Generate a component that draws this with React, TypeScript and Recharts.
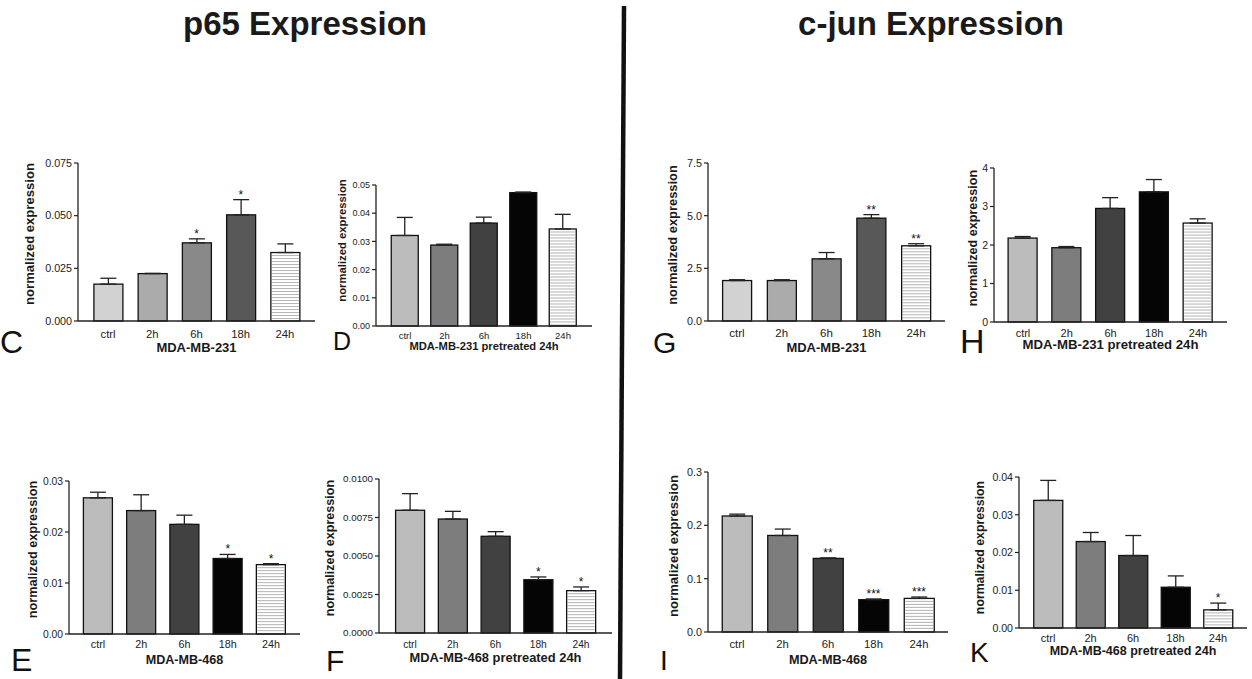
import React from 'react'
import { BarChart, Bar, XAxis, YAxis, ErrorBar, ReferenceDot, Cell } from 'recharts'

const timepoints = ['ctrl', '2h', '6h', '18h', '24h']

// p65 - MDA-MB-231
const p65Mb231Mean = [0.0175, 0.0225, 0.0371, 0.0504, 0.0325]
const p65Mb231Sem = [0.0028, 0.0001, 0.0019, 0.0072, 0.0041]
const p65Mb231Sig = ['', '', '*', '*', '']
const p65Mb231Ticks = [0, 0.025, 0.05, 0.075]

// p65 - MDA-MB-231 pretreated 24h
const p65Mb231PreMean = [0.0321, 0.0287, 0.0365, 0.0473, 0.0344]
const p65Mb231PreSem = [0.0064, 0.0003, 0.0021, 0.0002, 0.0052]
const p65Mb231PreSig = ['', '', '', '', '']
const p65Mb231PreTicks = [0, 0.01, 0.02, 0.03, 0.04, 0.05]

// p65 - MDA-MB-468
const p65Mb468Mean = [0.0267, 0.0242, 0.0215, 0.0148, 0.0136]
const p65Mb468Sem = [0.0011, 0.0031, 0.0018, 0.0008, 0.0002]
const p65Mb468Sig = ['', '', '', '*', '*']
const p65Mb468Ticks = [0, 0.01, 0.02, 0.03]

// p65 - MDA-MB-468 pretreated 24h
const p65Mb468PreMean = [0.00797, 0.0074, 0.00628, 0.00346, 0.00275]
const p65Mb468PreSem = [0.00108, 0.0005, 0.0003, 0.00018, 0.00024]
const p65Mb468PreSig = ['', '', '', '*', '*']
const p65Mb468PreTicks = [0, 0.0025, 0.005, 0.0075, 0.01]

// c-jun - MDA-MB-231
const cjunMb231Mean = [1.92, 1.92, 2.95, 4.88, 3.57]
const cjunMb231Sem = [0.04, 0.04, 0.3, 0.17, 0.1]
const cjunMb231Sig = ['', '', '', '**', '**']
const cjunMb231Ticks = [0, 2.5, 5, 7.5]

// c-jun - MDA-MB-231 pretreated 24h
const cjunMb231PreMean = [2.18, 1.93, 2.95, 3.38, 2.57]
const cjunMb231PreSem = [0.04, 0.03, 0.28, 0.32, 0.11]
const cjunMb231PreSig = ['', '', '', '', '']
const cjunMb231PreTicks = [0, 1, 2, 3, 4]

// c-jun - MDA-MB-468
const cjunMb468Mean = [0.2175, 0.181, 0.138, 0.0606, 0.063]
const cjunMb468Sem = [0.0035, 0.012, 0.001, 0.0014, 0.0026]
const cjunMb468Sig = ['', '', '**', '***', '***']
const cjunMb468Ticks = [0, 0.1, 0.2, 0.3]

// c-jun - MDA-MB-468 pretreated 24h
const cjunMb468PreMean = [0.0338, 0.0229, 0.0192, 0.0108, 0.0048]
const cjunMb468PreSem = [0.0053, 0.0024, 0.0053, 0.003, 0.0018]
const cjunMb468PreSig = ['', '', '', '', '*']
const cjunMb468PreTicks = [0, 0.01, 0.02, 0.03, 0.04]

const lightPalette = ['#d2d2d2', '#ababab', '#898989', '#585858', 'hatch']
const darkPalette = ['#bcbcbc', '#7d7d7d', '#414141', '#050505', 'hatch']

const AXIS = '#222'
const FONT = '"Liberation Sans", Arial, Helvetica, sans-serif'

function BarShape(props: any) {
  const { x, y, width, height, fill } = props
  if (!height || height <= 0) return null
  if (fill === 'hatch') {
    const lines = []
    for (let yy = y + 3; yy < y + height - 1; yy += 3) {
      lines.push(<line key={yy} x1={x + 1} x2={x + width - 1} y1={yy} y2={yy} stroke="#a0a0a0" strokeWidth={0.8} />)
    }
    return (
      <g>
        <rect x={x} y={y} width={width} height={height} fill="#fff" />
        {lines}
        <rect x={x} y={y} width={width} height={height} fill="none" stroke="#111" strokeWidth={1.3} />
      </g>
    )
  }
  return <rect x={x} y={y} width={width} height={height} fill={fill} stroke="#111" strokeWidth={1.3} />
}

type PanelProps = {
  mean: number[]
  sem: number[]
  sig: string[]
  ticks: number[]
  digits: number
  palette: string[]
  title: string
  x0: number
  x1: number
  yTop: number
  yBot: number
  pad: number
  bar: number
  yTickFs: number
  xTickFs: number
  tickGap: number
  labelFs: number
  labelDist: number
  labelDy: number
  titleFs: number
  titleY: number
}

function Panel(p: PanelProps) {
  const AW = 60
  const MT = 12
  const MR = 5
  const XH = 48
  const left = p.x0 - AW
  const top = p.yTop - MT
  const width = p.x1 - p.x0 + AW + MR
  const height = p.yBot - p.yTop + MT + XH
  const data = timepoints.map((t, i) => ({ t, mean: p.mean[i], err: [0, p.sem[i]] }))
  const lx = p.x0 - p.labelDist - left
  const ly = (p.yTop + p.yBot) / 2 + p.labelDy - top

  return (
    <div style={{ position: 'absolute', left, top }}>
      <BarChart width={width} height={height} data={data} margin={{ top: MT, right: MR, left: 0, bottom: 0 }}>
        <XAxis
          dataKey="t"
          height={XH}
          interval={0}
          padding={{ left: p.pad, right: p.pad }}
          tickLine={false}
          tickSize={0}
          tickMargin={p.tickGap}
          axisLine={{ stroke: AXIS, strokeWidth: 1.3 }}
          tick={{ fontSize: p.xTickFs, fill: '#222' }}
          label={() => (
            <text
              x={(p.x0 + p.x1) / 2 - left}
              y={p.titleY - top + 0.36 * p.titleFs}
              textAnchor="middle"
              fontSize={p.titleFs}
              fontWeight="bold"
              fill="#1a1a1a"
            >
              {p.title}
            </text>
          )}
        />
        <YAxis
          width={AW}
          domain={[0, p.ticks[p.ticks.length - 1]]}
          ticks={p.ticks}
          interval={0}
          tickFormatter={(v: number) => v.toFixed(p.digits)}
          tickSize={4}
          tickMargin={2}
          axisLine={{ stroke: AXIS, strokeWidth: 1.3 }}
          tickLine={{ stroke: AXIS, strokeWidth: 1.2 }}
          tick={{ fontSize: p.yTickFs, fill: '#222' }}
          label={() => (
            <text
              x={lx}
              y={ly}
              transform={`rotate(-90 ${lx} ${ly})`}
              textAnchor="middle"
              dominantBaseline="central"
              fontSize={p.labelFs}
              fontWeight="bold"
              fill="#1a1a1a"
            >
              normalized expression
            </text>
          )}
        />
        <Bar dataKey="mean" barSize={p.bar} isAnimationActive={false} shape={BarShape}>
          {data.map((d, i) => (
            <Cell key={d.t} fill={p.palette[i]} />
          ))}
          <ErrorBar dataKey="err" width={8} stroke={AXIS} strokeWidth={1.3} isAnimationActive={false} />
        </Bar>
        {p.sig.map((s, i) =>
          s ? (
            <ReferenceDot
              key={timepoints[i]}
              x={timepoints[i]}
              y={p.mean[i] + p.sem[i]}
              r={0}
              fill="none"
              stroke="none"
              label={{ value: s, position: 'top', offset: 1, fontSize: 12, fill: '#111' }}
            />
          ) : null
        )}
      </BarChart>
    </div>
  )
}

export default function App() {
  return (
    <div
      style={{
        position: 'absolute',
        left: 0,
        top: 0,
        width: 1252,
        height: 679,
        background: '#fff',
        overflow: 'hidden',
        fontFamily: FONT,
      }}
    >
      <svg width={1252} height={679} style={{ position: 'absolute', left: 0, top: 0 }} fontFamily={FONT}>
        <text x={305} y={35} textAnchor="middle" fontSize={33} fontWeight="bold" fill="#1a1a1a">
          p65 Expression
        </text>
        <text x={931} y={35} textAnchor="middle" fontSize={33} fontWeight="bold" fill="#1a1a1a">
          c-jun Expression
        </text>
        <line x1={624} y1={6} x2={620} y2={679} stroke="#111" strokeWidth={4.5} />
        <text x={0} y={353} fontSize={32} fill="#111">C</text>
        <text x={333} y={350} fontSize={25} fill="#111">D</text>
        <text x={653} y={353} fontSize={30} fill="#111">G</text>
        <text x={960} y={353} fontSize={34} fill="#111">H</text>
        <text x={11} y={671} fontSize={32} fill="#111">E</text>
        <text x={326} y={671} fontSize={30} fill="#111">F</text>
        <text x={660} y={670} fontSize={28} fill="#111">I</text>
        <text x={970} y={662} fontSize={28} fill="#111">K</text>
      </svg>

      <Panel mean={p65Mb231Mean} sem={p65Mb231Sem} sig={p65Mb231Sig} ticks={p65Mb231Ticks} digits={3}
        palette={lightPalette} title="MDA-MB-231"
        x0={78} x1={315} yTop={163} yBot={321} pad={7.9} bar={29}
        yTickFs={10.7} xTickFs={11.3} tickGap={8.5} labelFs={13.1} labelDist={49} labelDy={-8}
        titleFs={13} titleY={347} />
      <Panel mean={p65Mb231PreMean} sem={p65Mb231PreSem} sig={p65Mb231PreSig} ticks={p65Mb231PreTicks} digits={2}
        palette={darkPalette} title="MDA-MB-231 pretreated 24h"
        x0={376} x1={592} yTop={185} yBot={326} pad={9.25} bar={27}
        yTickFs={9} xTickFs={9.5} tickGap={5.8} labelFs={11.3} labelDist={34} labelDy={-15}
        titleFs={11.2} titleY={345.5} />
      <Panel mean={cjunMb231Mean} sem={cjunMb231Sem} sig={cjunMb231Sig} ticks={cjunMb231Ticks} digits={1}
        palette={lightPalette} title="MDA-MB-231"
        x0={708} x1={945} yTop={163} yBot={321} pad={6.6} bar={29}
        yTickFs={10.8} xTickFs={11.5} tickGap={7.8} labelFs={12.9} labelDist={36} labelDy={-7}
        titleFs={13} titleY={347} />
      <Panel mean={cjunMb231PreMean} sem={cjunMb231PreSem} sig={cjunMb231PreSig} ticks={cjunMb231PreTicks} digits={0}
        palette={darkPalette} title="MDA-MB-231 pretreated 24h"
        x0={994} x1={1227} yTop={168} yBot={322} pad={7.1} bar={29}
        yTickFs={10.5} xTickFs={11} tickGap={6.8} labelFs={12.6} labelDist={21} labelDy={-7}
        titleFs={13.2} titleY={344.5} />
      <Panel mean={p65Mb468Mean} sem={p65Mb468Sem} sig={p65Mb468Sig} ticks={p65Mb468Ticks} digits={2}
        palette={darkPalette} title="MDA-MB-468"
        x0={69} x1={300} yTop={481} yBot={634} pad={7.4} bar={29}
        yTickFs={10.3} xTickFs={10.8} tickGap={6.1} labelFs={12.7} labelDist={36} labelDy={-8}
        titleFs={12.6} titleY={659} />
      <Panel mean={p65Mb468PreMean} sem={p65Mb468PreSem} sig={p65Mb468PreSig} ticks={p65Mb468PreTicks} digits={4}
        palette={darkPalette} title="MDA-MB-468 pretreated 24h"
        x0={379} x1={612} yTop={479} yBot={633} pad={9.6} bar={29}
        yTickFs={9.8} xTickFs={10.2} tickGap={7.4} labelFs={12.6} labelDist={49} labelDy={-8}
        titleFs={12.9} titleY={657.5} />
      <Panel mean={cjunMb468Mean} sem={cjunMb468Sem} sig={cjunMb468Sig} ticks={cjunMb468Ticks} digits={1}
        palette={darkPalette} title="MDA-MB-468"
        x0={708} x1={948} yTop={472} yBot={632} pad={6.25} bar={30}
        yTickFs={10.8} xTickFs={11.3} tickGap={7.5} labelFs={13.1} labelDist={35} labelDy={-6}
        titleFs={12.7} titleY={659} />
      <Panel mean={cjunMb468PreMean} sem={cjunMb468PreSem} sig={cjunMb468PreSig} ticks={cjunMb468PreTicks} digits={2}
        palette={darkPalette} title="MDA-MB-468 pretreated 24h"
        x0={1019} x1={1247} yTop={477} yBot={628} pad={7.75} bar={29}
        yTickFs={10.6} xTickFs={11} tickGap={6.5} labelFs={12.3} labelDist={39} labelDy={-5}
        titleFs={12.5} titleY={650.5} />
    </div>
  )
}
